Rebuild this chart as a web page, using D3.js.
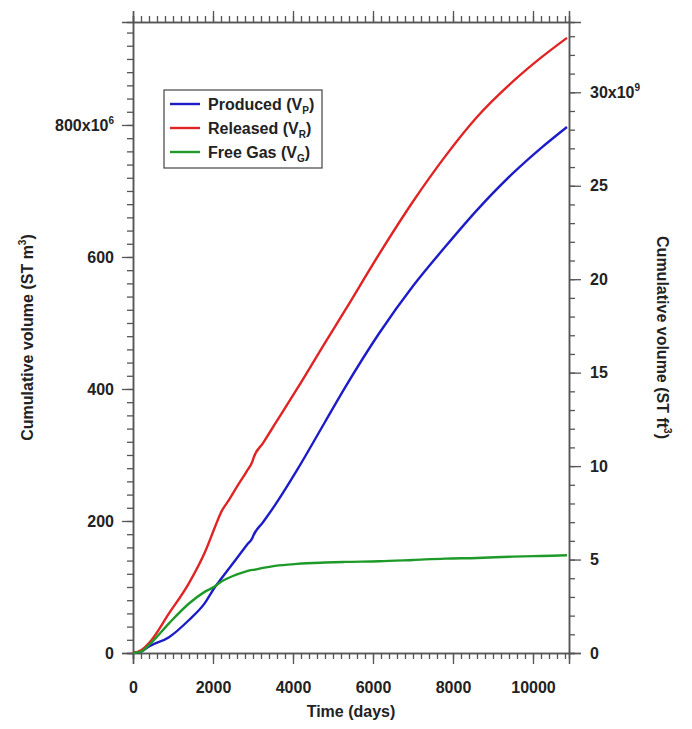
<!DOCTYPE html>
<html>
<head>
<meta charset="utf-8">
<script src="https://cdn.jsdelivr.net/npm/d3@7"></script>
<style>
  body { margin: 0; background: #fff; }
  svg { font-family: "Liberation Sans", Arial, sans-serif; font-weight: bold; }
</style>
</head>
<body>
<div id="chart"></div>
<script>
// time in days
const days = [0, 200, 400, 900, 1400, 1800, 2050, 2200, 2400, 2600, 2850, 2990, 3010, 3250, 3550, 4100, 4800, 5300, 6150, 7000, 7800, 8600, 9500, 10200, 10850];
// cumulative volumes, 10^6 ST m3
const produced = [0, 2, 10, 24, 50, 76, 100, 112, 128, 144, 164, 175, 178, 198, 224, 277, 350, 402, 484, 556, 615, 671, 727, 765, 797];
const released = [0, 4, 15, 60, 106, 153, 191, 213, 232, 252, 276, 291, 295, 318, 347, 400, 470, 519, 604, 684, 752, 812, 866, 902, 932];
const freeGas  = [0, 2, 12, 45, 75, 93, 101, 108, 114, 119, 124, 126, 126, 129, 132, 135, 137, 138, 139, 141, 143, 144, 146, 147, 148];

const xTicks = [0, 2000, 4000, 6000, 8000, 10000];
const yTicks = [0, 200, 400, 600, 800];
const y2Ticks = [0, 5, 10, 15, 20, 25, 30];
const M3_TO_FT3 = 35.3147;

const series = [
  { name: "Produced", sub: "P", color: "#1c1cc8", values: produced },
  { name: "Released", sub: "R", color: "#e02424", values: released },
  { name: "Free Gas", sub: "G", color: "#1e9a28", values: freeGas }
];

const W = 692, H = 729;
const pLeft = 133, pRight = 569, pTop = 22, pBottom = 653;

const svg = d3.select("#chart").append("svg")
  .attr("width", W).attr("height", H);

const x = d3.scaleLinear().domain([0, 10900]).range([pLeft, pRight]);
const y = d3.scaleLinear().domain([0, 956]).range([pBottom, pTop]);
const y2 = d3.scaleLinear().domain([0, 956 * M3_TO_FT3 / 1000]).range([pBottom, pTop]);

const axisColor = "#555";
const fs = 16;

function styleAxis(g) {
  g.select(".domain").attr("stroke", axisColor).attr("stroke-width", 1.5);
  g.selectAll(".tick line").attr("stroke", axisColor).attr("stroke-width", 1.3);
  g.selectAll("text").attr("fill", "#222").attr("font-size", fs).attr("font-weight", "bold")
    .attr("font-family", "Liberation Sans, Arial, sans-serif");
}

// minor ticks
const xMinor = d3.range(0, 10801, 200);
const yMinor = d3.range(0, 941, 20);
const y2Minor = d3.range(0, 34, 1);

svg.append("g").attr("transform", `translate(0,${pBottom})`)
  .call(d3.axisBottom(x).tickValues(xMinor).tickSize(6).tickFormat("")).call(styleAxis);
svg.append("g").attr("transform", `translate(0,${pTop})`)
  .call(d3.axisTop(x).tickValues(xMinor).tickSize(6).tickFormat("")).call(styleAxis);
svg.append("g").attr("transform", `translate(${pLeft},0)`)
  .call(d3.axisLeft(y).tickValues(yMinor).tickSize(6).tickFormat("")).call(styleAxis);
svg.append("g").attr("transform", `translate(${pRight},0)`)
  .call(d3.axisRight(y2).tickValues(y2Minor).tickSize(6).tickFormat("")).call(styleAxis);

// major ticks
svg.append("g").attr("transform", `translate(0,${pBottom})`)
  .call(d3.axisBottom(x).tickValues(xTicks).tickSize(11).tickPadding(18).tickFormat(d3.format("d")))
  .call(styleAxis);
svg.append("g").attr("transform", `translate(0,${pTop})`)
  .call(d3.axisTop(x).tickValues(xTicks).tickSize(11).tickFormat(""))
  .call(styleAxis);

const yAx = svg.append("g").attr("transform", `translate(${pLeft},0)`)
  .call(d3.axisLeft(y).tickValues(yTicks).tickSize(11).tickPadding(8).tickFormat(d3.format("d")))
  .call(styleAxis);
const y2Ax = svg.append("g").attr("transform", `translate(${pRight},0)`)
  .call(d3.axisRight(y2).tickValues(y2Ticks).tickSize(12).tickPadding(9).tickFormat(d3.format("d")))
  .call(styleAxis);

// exponent on the top labels
yAx.selectAll(".tick text").filter(d => d === 800).each(function () {
  const t = d3.select(this).text("");
  t.append("tspan").text("800x10");
  t.append("tspan").attr("font-size", 10).attr("dy", -7).text("6");
});
y2Ax.selectAll(".tick text").filter(d => d === 30).each(function () {
  const t = d3.select(this).text("");
  t.append("tspan").text("30x10");
  t.append("tspan").attr("font-size", 10).attr("dy", -7).text("9");
});

// curves
const line = d3.line().curve(d3.curveMonotoneX)
  .x((d, i) => x(days[i]))
  .y(d => y(d));

series.forEach(s => {
  svg.append("path")
    .datum(s.values)
    .attr("fill", "none")
    .attr("stroke", s.color)
    .attr("stroke-width", 2.4)
    .attr("d", line);
});

// axis titles
svg.append("text")
  .attr("x", 351).attr("y", 717)
  .attr("text-anchor", "middle").attr("font-size", fs).attr("fill", "#222")
  .text("Time (days)");

const lt = svg.append("text")
  .attr("transform", `translate(33,${(pTop + pBottom) / 2}) rotate(-90)`)
  .attr("text-anchor", "middle").attr("font-size", fs).attr("fill", "#222");
lt.append("tspan").text("Cumulative volume (ST m");
lt.append("tspan").attr("font-size", 10).attr("dy", -7).text("3");
lt.append("tspan").attr("dy", 7).text(")");

const rt = svg.append("text")
  .attr("transform", `translate(657,${(pTop + pBottom) / 2}) rotate(90)`)
  .attr("text-anchor", "middle").attr("font-size", fs).attr("fill", "#222");
rt.append("tspan").text("Cumulative volume (ST ft");
rt.append("tspan").attr("font-size", 10).attr("dy", -7).text("3");
rt.append("tspan").attr("dy", 7).text(")");

// legend
const lg = svg.append("g").attr("transform", "translate(164,90)");
lg.append("rect")
  .attr("width", 158).attr("height", 78)
  .attr("fill", "#fff").attr("stroke", "#444").attr("stroke-width", 1.2);
series.forEach((s, i) => {
  const ry = 14 + i * 24;
  lg.append("line")
    .attr("x1", 6).attr("x2", 36).attr("y1", ry).attr("y2", ry)
    .attr("stroke", s.color).attr("stroke-width", 2.4);
  const t = lg.append("text")
    .attr("x", 44).attr("y", ry + 6)
    .attr("font-size", fs).attr("fill", "#222");
  t.append("tspan").text(s.name + " (V");
  t.append("tspan").attr("font-size", 10).attr("dy", 4).text(s.sub);
  t.append("tspan").attr("dy", -4).text(")");
});
</script>
</body>
</html>
